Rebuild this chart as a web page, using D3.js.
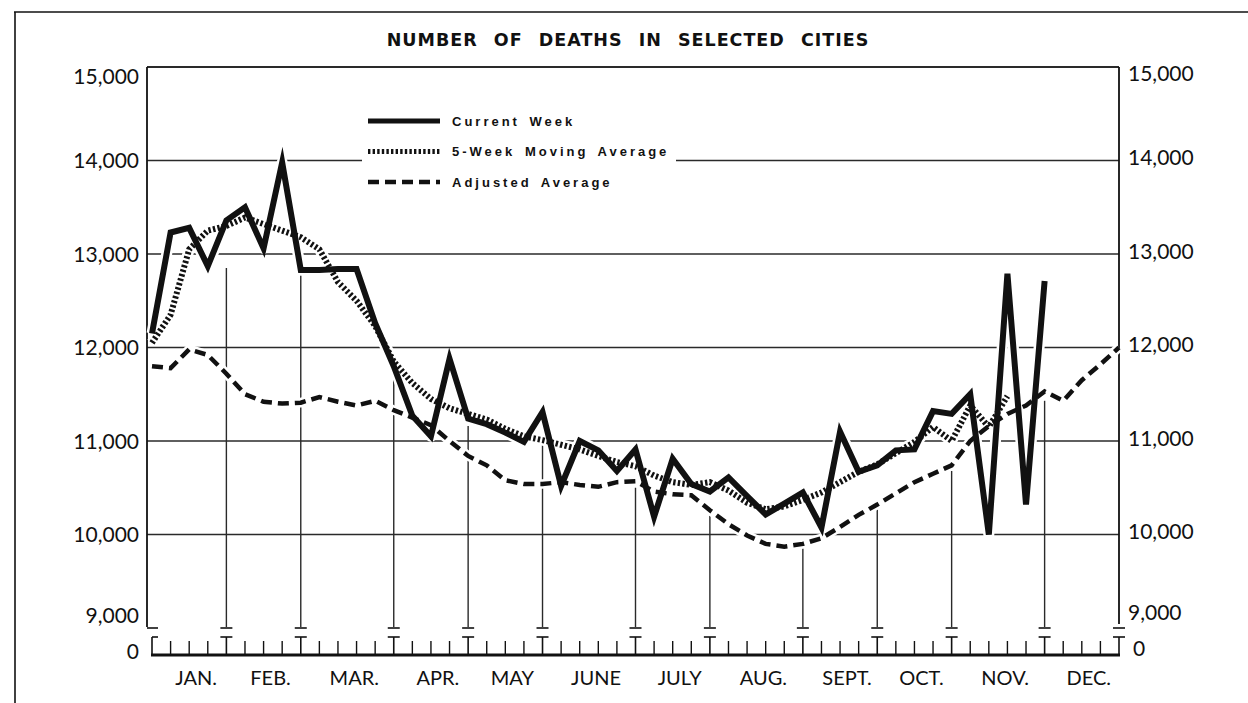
<!DOCTYPE html>
<html>
<head>
<meta charset="utf-8">
<script src="https://cdn.jsdelivr.net/npm/d3@7"></script>
<style>
  body { margin: 0; background: #fff; }
  svg { display: block; }
</style>
</head>
<body>
<svg id="chart" width="1248" height="703"></svg>
<script>
const months = ["JAN.", "FEB.", "MAR.", "APR.", "MAY", "JUNE", "JULY", "AUG.", "SEPT.", "OCT.", "NOV.", "DEC."]
const monthWeeks = [4, 4, 5, 4, 4, 5, 4, 5, 4, 4, 5, 4]
const yTicks = [9000, 10000, 11000, 12000, 13000, 14000, 15000]
const legendItems = ["Current Week", "5-Week Moving Average", "Adjusted Average"]

// weekly deaths, week 0 = first week of january
const currentWeek = [
    12150, 13230, 13280, 12870, 13360, 13500, 13060, 13980, 12830, 12830,
    12840, 12840, 12260, 11800, 11270, 11050, 11880, 11240, 11180, 11090,
    10990, 11310, 10520, 11000, 10900, 10680, 10910, 10190, 10810, 10540,
    10460, 10610, 10410, 10215, 10330, 10450, 10075, 11100, 10670, 10740,
    10900, 10910, 11320, 11290, 11500, 10000, 12790, 10320, 12710
]
const movingAverage = [
    12050, 12350, 13050, 13250, 13300, 13390, 13320, 13250, 13180, 13050,
    12700, 12500, 12230, 11850, 11620, 11450, 11350, 11290, 11230, 11130,
    11050, 11010, 10960, 10910, 10840, 10775, 10730, 10630, 10560, 10530,
    10560, 10470, 10340, 10270, 10300, 10370, 10450, 10560, 10670, 10750,
    10870, 10990, 11150, 11000, 11380, 11150, 11480
]
const adjustedAverage = [
    11800, 11780, 11980, 11920, 11720, 11500, 11420, 11400, 11410, 11470,
    11420, 11380, 11430, 11330, 11250, 11170, 11000, 10840, 10740, 10580,
    10540, 10540, 10560, 10530, 10510, 10560, 10570, 10460, 10430, 10420,
    10260, 10110, 9990, 9900, 9870, 9900, 9960, 10080, 10210, 10320,
    10440, 10560, 10650, 10740, 11000, 11160, 11290, 11380, 11530, 11430,
    11650, 11820, 12000
]
// how far up each month guide line reaches (deaths)
const guideTops = [12850, 12770, 11700, 11160, 10970, 10500, 10200, 9850, 10270, 10680, 11430]

let DeathsChart = function (svg) {
    this.svg = svg
    this.width = 1248
    this.height = 703

    this.setLayout()
    this.setScales()
    this.draw()
}

DeathsChart.prototype.setLayout = function () {
    this.layout = {
        left: 152,
        right: 1119,
        top: 67,
        breakY: 628,
        baseY: 655,
        ink: "#111",
        gridStroke: "#2a2a2a",
        gridWidth: 1.4,
        numberFont: "Lato, 'Open Sans', sans-serif",
        legendFont: "'Liberation Sans', Arial, sans-serif",
        currentWidth: 6,
        movingWidth: 6,
        adjustedWidth: 4.5,
    }
}

DeathsChart.prototype.setScales = function () {
    const L = this.layout
    this.x = d3.scaleLinear().domain([0, d3.sum(monthWeeks)]).range([L.left, L.right])
    this.y = d3.scaleLinear().domain([9000, 15000]).range([L.breakY, L.top])
    this.monthEdges = [0, ...d3.cumsum(monthWeeks)]
}

DeathsChart.prototype.draw = function () {
    this.addFrame()
    this.addGrid()
    this.addBottomScale()
    this.addYLabels()
    this.addLegend()
    this.addLines()
    this.addTitle()
}

DeathsChart.prototype.addFrame = function () {
    const L = this.layout
    const g = this.svg.append("g").attr("id", "frame")
    g.append("line").attr("x1", 14).attr("x2", 1248).attr("y1", 12).attr("y2", 12)
        .attr("stroke", L.ink).attr("stroke-width", 1.6)
    g.append("line").attr("x1", 15).attr("x2", 15).attr("y1", 12).attr("y2", 703)
        .attr("stroke", L.ink).attr("stroke-width", 1.6)
}

DeathsChart.prototype.addGrid = function () {
    let _this = this
    const L = this.layout
    const g = this.svg.append("g").attr("id", "grid")

    g.selectAll(".hgrid")
        .data(yTicks.filter(d => d > 9000))
        .join("line")
        .attr("class", "hgrid")
        .attr("x1", L.left - 5)
        .attr("x2", L.right)
        .attr("y1", d => _this.y(d))
        .attr("y2", d => _this.y(d))
        .attr("stroke", L.gridStroke)
        .attr("stroke-width", d => d === 15000 ? 1.8 : L.gridWidth)

    // plot sides
    g.append("line").attr("x1", L.left - 5).attr("x2", L.left - 5)
        .attr("y1", L.top).attr("y2", L.breakY - 1)
        .attr("stroke", L.ink).attr("stroke-width", 1.8)
    g.append("line").attr("x1", L.right).attr("x2", L.right)
        .attr("y1", L.top).attr("y2", L.breakY - 4)
        .attr("stroke", L.ink).attr("stroke-width", 1.8)

    // month guides
    const inner = this.monthEdges.slice(1, -1)
    g.selectAll(".vguide")
        .data(inner)
        .join("line")
        .attr("class", "vguide")
        .attr("x1", d => _this.x(d))
        .attr("x2", d => _this.x(d))
        .attr("y1", (d, i) => _this.y(guideTops[i]))
        .attr("y2", L.breakY - 1)
        .attr("stroke", L.gridStroke)
        .attr("stroke-width", L.gridWidth)
}

DeathsChart.prototype.addBottomScale = function () {
    let _this = this
    const L = this.layout
    const g = this.svg.append("g").attr("id", "bottom-scale")
    const weeks = d3.range(0, d3.sum(monthWeeks) + 1)

    g.append("line")
        .attr("x1", L.left - 1).attr("x2", L.right + 1)
        .attr("y1", L.baseY).attr("y2", L.baseY)
        .attr("stroke", L.ink).attr("stroke-width", 3)

    g.selectAll(".week-tick")
        .data(weeks.filter(w => !_this.monthEdges.includes(w)))
        .join("line")
        .attr("class", "week-tick")
        .attr("x1", d => _this.x(d)).attr("x2", d => _this.x(d))
        .attr("y1", L.baseY - 14).attr("y2", L.baseY)
        .attr("stroke", L.ink).attr("stroke-width", 1.4)

    const edge = g.selectAll(".edge-mark")
        .data(this.monthEdges)
        .join("g")
        .attr("class", "edge-mark")
        .attr("transform", d => `translate(${_this.x(d)},0)`)

    edge.append("line")
        .attr("x1", d => d === 0 ? -5 : -6).attr("x2", 6)
        .attr("y1", L.breakY).attr("y2", L.breakY)
        .attr("stroke", L.ink).attr("stroke-width", 1.6)
    edge.append("line")
        .attr("x1", d => d === 0 ? 0 : -6).attr("x2", 6)
        .attr("y1", L.breakY + 9).attr("y2", L.breakY + 9)
        .attr("stroke", L.ink).attr("stroke-width", 1.6)
    edge.append("line")
        .attr("x1", 0).attr("x2", 0)
        .attr("y1", L.breakY + 9).attr("y2", L.baseY)
        .attr("stroke", L.ink).attr("stroke-width", 1.6)

    g.selectAll(".month-label")
        .data(months)
        .join("text")
        .attr("class", "month-label")
        .attr("x", (d, i) => (_this.x(_this.monthEdges[i]) + _this.x(_this.monthEdges[i + 1])) / 2 + 7)
        .attr("y", 685)
        .attr("text-anchor", "middle")
        .attr("font-family", L.numberFont)
        .attr("font-size", 20)
        .attr("fill", L.ink)
        .text(d => d)
}

DeathsChart.prototype.addYLabels = function () {
    let _this = this
    const L = this.layout
    const g = this.svg.append("g").attr("id", "y-labels")
    const fmt = d3.format(",")
    const shift = d => d === 15000 ? 9 : d === 9000 ? -13 : 0
    const labels = yTicks.map(d => ({ text: fmt(d), y: _this.y(d) + shift(d) }))
    labels.push({ text: "0", y: L.baseY - 4 })

    g.selectAll(".ylab-left")
        .data(labels)
        .join("text")
        .attr("class", "ylab-left")
        .attr("x", 139)
        .attr("y", d => d.y)
        .attr("dy", "0.36em")
        .attr("text-anchor", "end")
        .attr("font-family", L.numberFont)
        .attr("font-size", 21)
        .attr("fill", L.ink)
        .text(d => d.text)

    g.selectAll(".ylab-right")
        .data(labels)
        .join("text")
        .attr("class", "ylab-right")
        .attr("x", d => d.text === "0" ? 1133 : 1128)
        .attr("y", d => d.y - 3)
        .attr("dy", "0.36em")
        .attr("text-anchor", "start")
        .attr("font-family", L.numberFont)
        .attr("font-size", 21)
        .attr("fill", L.ink)
        .text(d => d.text)
}

DeathsChart.prototype.lineStyles = function () {
    const L = this.layout
    return [
        { width: L.currentWidth, dash: null },
        { width: L.movingWidth, dash: "2.4,2.2" },
        { width: L.adjustedWidth, dash: "11,6" },
    ]
}

DeathsChart.prototype.addLegend = function () {
    const L = this.layout
    const g = this.svg.append("g").attr("id", "legend")
    const styles = this.lineStyles()

    g.append("rect")
        .attr("x", 362).attr("y", 100)
        .attr("width", 314).attr("height", 96)
        .attr("fill", "#fff")

    const row = g.selectAll(".legend-row")
        .data(legendItems)
        .join("g")
        .attr("class", "legend-row")
        .attr("transform", (d, i) => `translate(0,${121 + i * 30.5})`)

    row.append("line")
        .attr("x1", 368).attr("x2", 440)
        .attr("y1", 0).attr("y2", 0)
        .attr("stroke", L.ink)
        .attr("stroke-width", (d, i) => i === 2 ? 4.5 : 5)
        .attr("stroke-dasharray", (d, i) => styles[i].dash)

    row.append("text")
        .attr("x", 452).attr("y", 0)
        .attr("dy", "0.36em")
        .attr("font-family", L.legendFont)
        .attr("font-weight", "bold")
        .attr("font-size", 13)
        .attr("letter-spacing", 3)
        .attr("word-spacing", 3)
        .attr("fill", L.ink)
        .text(d => d)
}

DeathsChart.prototype.addLines = function () {
    let _this = this
    const L = this.layout
    const styles = this.lineStyles()
    const series = [currentWeek, movingAverage, adjustedAverage]
    const line = d3.line()
        .x((d, i) => _this.x(i))
        .y(d => _this.y(d))

    const halo = this.svg.append("g").attr("id", "halos")
    halo.selectAll("path")
        .data(series)
        .join("path")
        .attr("d", line)
        .attr("fill", "none")
        .attr("stroke", "#fff")
        .attr("stroke-width", (d, i) => styles[i].width + 5)
        .attr("stroke-linejoin", "round")

    const g = this.svg.append("g").attr("id", "series")
    g.selectAll("path")
        .data(series.slice().reverse())
        .join("path")
        .attr("d", line)
        .attr("fill", "none")
        .attr("stroke", L.ink)
        .attr("stroke-width", (d, i) => styles[2 - i].width)
        .attr("stroke-dasharray", (d, i) => styles[2 - i].dash)
        .attr("stroke-linejoin", "miter")
        .attr("stroke-miterlimit", 6)
}

DeathsChart.prototype.addTitle = function () {
    const L = this.layout
    this.svg.append("text")
        .attr("x", 628)
        .attr("y", 46)
        .attr("text-anchor", "middle")
        .attr("font-family", "'DejaVu Sans', sans-serif")
        .attr("font-weight", "bold")
        .attr("font-size", 17.5)
        .attr("letter-spacing", 1)
        .attr("word-spacing", 9)
        .attr("fill", L.ink)
        .text("NUMBER OF DEATHS IN SELECTED CITIES")
}

new DeathsChart(d3.select("#chart"))
</script>
</body>
</html>
